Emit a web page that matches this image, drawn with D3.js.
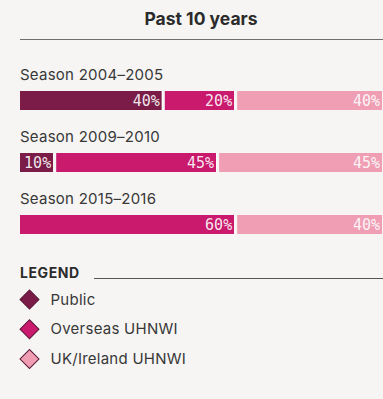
<!DOCTYPE html>
<html>
<head>
<meta charset="utf-8">
<script src="https://cdn.jsdelivr.net/npm/d3@7"></script>
<style>
  html, body { margin: 0; padding: 0; background: #f6f5f3; }
  svg { display: block; }
</style>
</head>
<body>
<svg id="chart" width="383" height="399"></svg>
<script>
// Audience share by season, in percent
const seasons = ["Season 2004\u20132005", "Season 2009\u20132010", "Season 2015\u20132016"];
const groups = ["Public", "Overseas UHNWI", "UK/Ireland UHNWI"];
const publicShare = [40, 10, 0];
const overseasShare = [20, 45, 60];
const ukShare = [40, 45, 40];
const colors = ["#7a1c47", "#c91a6d", "#ef9eb4"];
const title = "Past 10 years";

const W = 383, H = 399;
const svg = d3.select("#chart");
svg.append("rect").attr("width", W).attr("height", H).attr("fill", "#f6f5f3");

const sans = "Inter, 'Noto Sans', Arial, sans-serif";
const mono = "'DejaVu Sans Mono', 'Liberation Mono', monospace";

// Title and rule
svg.append("text")
  .attr("x", 201).attr("y", 25)
  .attr("text-anchor", "middle")
  .attr("font-family", sans).attr("font-weight", 700)
  .attr("font-size", 17.5).attr("fill", "#2b2b2b")
  .text(title);
svg.append("line")
  .attr("x1", 20).attr("x2", W).attr("y1", 39.5).attr("y2", 39.5)
  .attr("stroke", "#6e6e6e").attr("stroke-width", 1.2);

// Stack the series per season
const rows = seasons.map((s, i) => ({
  season: s,
  Public: publicShare[i],
  "Overseas UHNWI": overseasShare[i],
  "UK/Ireland UHNWI": ukShare[i]
}));
const stacked = d3.stack().keys(groups)(rows);

const x = d3.scaleLinear().domain([0, 100]).range([20, 382]);
const y = d3.scaleBand().domain(seasons).range([68, 254]).paddingInner(0).paddingOuter(0);
const barTop = 23, barH = 19, gap = 3;

const rowG = svg.selectAll("g.row").data(seasons).join("g")
  .attr("class", "row")
  .attr("transform", d => `translate(0,${y(d)})`);

rowG.append("text")
  .attr("x", 20).attr("y", 11.5)
  .attr("font-family", sans).attr("font-size", 15)
  .attr("letter-spacing", 0.25)
  .attr("fill", "#383838")
  .text(d => d);

const color = d3.scaleOrdinal().domain(groups).range(colors);

stacked.forEach((layer, li) => {
  layer.forEach((seg, si) => {
    const v = seg[1] - seg[0];
    if (v <= 0) return;
    const isLast = seg[1] >= 100;
    const x0 = x(seg[0]);
    const x1 = isLast ? x(seg[1]) : x(seg[1]) - gap;
    const g = svg.append("g").attr("transform", `translate(0,${y(seasons[si]) + barTop})`);
    g.append("rect")
      .attr("x", x0).attr("y", 0)
      .attr("width", x1 - x0).attr("height", barH)
      .attr("fill", color(layer.key));
    g.append("line")
      .attr("x1", x1 + 0.5).attr("x2", x1 + 0.5).attr("y1", 0).attr("y2", barH)
      .attr("stroke", "#ffffff").attr("stroke-width", isLast ? 0 : 1);
    g.append("text")
      .attr("x", x1 - 2).attr("y", 15)
      .attr("text-anchor", "end")
      .attr("font-family", mono).attr("font-size", 15)
      .attr("fill", "#ffffff").attr("fill-opacity", 0.9)
      .text(v + "%");
  });
});

// Legend
svg.append("text")
  .attr("x", 20).attr("y", 278)
  .attr("font-family", sans).attr("font-weight", 700)
  .attr("font-size", 14).attr("letter-spacing", 0.6)
  .attr("fill", "#2b2b2b")
  .text("LEGEND");
svg.append("line")
  .attr("x1", 94).attr("x2", W).attr("y1", 278.5).attr("y2", 278.5)
  .attr("stroke", "#555").attr("stroke-width", 1);

const ly = d3.scalePoint().domain(groups).range([299.5, 359]);
const items = svg.selectAll("g.leg").data(groups).join("g")
  .attr("class", "leg")
  .attr("transform", d => `translate(29.5,${ly(d)})`);
items.append("path")
  .attr("d", d3.symbol().type(d3.symbolSquare).size(180))
  .attr("transform", "rotate(45)")
  .attr("fill", d => color(d))
  .attr("stroke", "#5b1637").attr("stroke-width", 1);
items.append("text")
  .attr("x", 21).attr("y", 5)
  .attr("font-family", sans).attr("font-size", 15)
  .attr("letter-spacing", 0.25)
  .attr("fill", "#383838")
  .text(d => d);
</script>
</body>
</html>
